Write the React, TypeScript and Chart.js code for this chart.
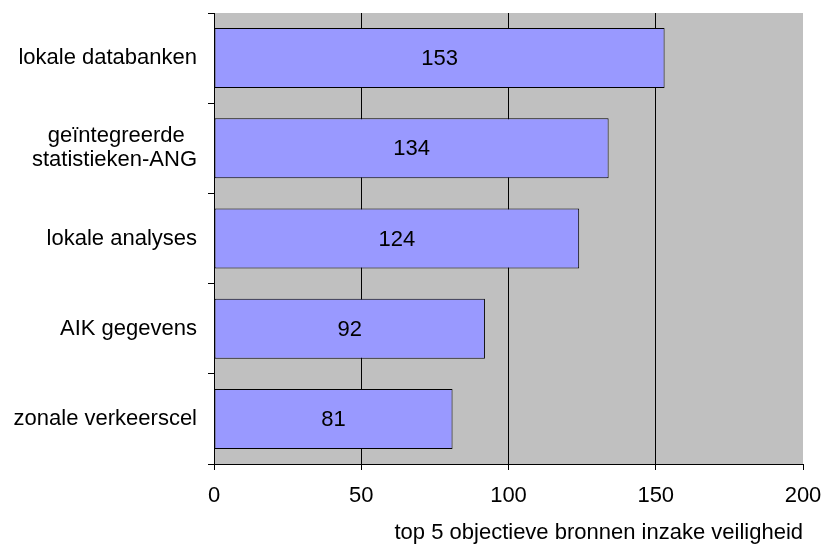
import React, { useEffect, useRef } from "react";
import { Chart, registerables } from "chart.js";

Chart.register(...registerables);

const categories: (string | string[])[] = [
  "lokale databanken",
  ["geïntegreerde", "statistieken-ANG"],
  "lokale analyses",
  "AIK gegevens",
  "zonale verkeerscel",
];
const values: number[] = [153, 134, 124, 92, 81];
const xTicks: number[] = [0, 50, 100, 150, 200];
const xTitle = "top 5 objectieve bronnen inzake veiligheid";

const FONT = "'Liberation Sans', Arial, sans-serif";

const bgPlugin = {
  id: "plotBg",
  beforeDraw(chart: any) {
    const { ctx, chartArea } = chart;
    ctx.save();
    ctx.fillStyle = "#C0C0C0";
    ctx.fillRect(chartArea.left, chartArea.top, chartArea.right - chartArea.left, chartArea.bottom - chartArea.top);
    ctx.restore();
  },
};

const valueLabelPlugin = {
  id: "valueLabels",
  afterDatasetsDraw(chart: any) {
    const { ctx } = chart;
    const meta = chart.getDatasetMeta(0);
    ctx.save();
    ctx.font = `22px ${FONT}`;
    ctx.fillStyle = "#000";
    ctx.textAlign = "center";
    ctx.textBaseline = "middle";
    meta.data.forEach((bar: any, i: number) => {
      const p = bar.getProps(["x", "y", "base"], true);
      ctx.fillText(String(values[i]), (p.x + p.base) / 2, p.y + 1);
    });
    ctx.restore();
  },
};

function zeroPad(scale: any) {
  scale.paddingTop = 0;
  scale.paddingBottom = 0;
  scale.paddingLeft = 0;
  scale.paddingRight = 0;
}

export default function App() {
  const ref = useRef<HTMLCanvasElement | null>(null);
  useEffect(() => {
    if (!ref.current) return;
    const chart = new Chart(ref.current, {
      type: "bar",
      data: {
        labels: categories as any,
        datasets: [
          {
            data: values,
            backgroundColor: "#9999FF",
            borderColor: "#000",
            borderWidth: 1,
            borderSkipped: false,
            barPercentage: 0.665,
            categoryPercentage: 1,
          },
        ],
      },
      options: {
        indexAxis: "y",
        animation: false,
        responsive: false,
        maintainAspectRatio: false,
        layout: { padding: { left: 0, right: 27, top: 13, bottom: 0 } },
        plugins: { legend: { display: false }, tooltip: { enabled: false } },
        scales: {
          x: {
            min: 0,
            max: 200,
            afterBuildTicks: (scale: any) => {
              scale.ticks = xTicks.map((v) => ({ value: v }));
            },
            afterFit: (scale: any) => {
              scale.height = 88;
              zeroPad(scale);
            },
            ticks: {
              color: "#000",
              font: { family: FONT, size: 22 },
              padding: 13,
              maxRotation: 0,
            },
            grid: {
              color: (c: any) => (c.tick && c.tick.value === 200 ? "rgba(0,0,0,0)" : "#000"),
              tickColor: "#000",
              tickLength: 6,
              lineWidth: 1,
            },
            border: { display: true, color: "#000", width: 1 },
            title: {
              display: true,
              text: xTitle,
              align: "end",
              color: "#000",
              font: { family: FONT, size: 22 },
              padding: { top: 0, bottom: 6 },
            },
          },
          y: {
            afterFit: (scale: any) => {
              scale.width = 214;
              zeroPad(scale);
            },
            ticks: {
              color: "#000",
              font: { family: FONT, size: 22, lineHeight: 1.1 },
              padding: 11,
              callback: (_v: any, i: number) => {
                const c = categories[i];
                if (Array.isArray(c)) {
                  return [c[0] + "\u00A0\u00A0", c[1]];
                }
                return c;
              },
            },
            grid: {
              display: true,
              drawOnChartArea: false,
              offset: true,
              color: "#000",
              tickLength: 6,
            },
            border: { display: true, color: "#000", width: 1 },
          },
        },
      },
      plugins: [bgPlugin, valueLabelPlugin],
    });
    return () => chart.destroy();
  }, []);
  return (
    <div style={{ position: "fixed", left: 0, top: 0, width: 830, height: 552, background: "#fff" }}>
      <canvas ref={ref} width={830} height={552} style={{ display: "block", width: 830, height: 552 }} />
    </div>
  );
}
